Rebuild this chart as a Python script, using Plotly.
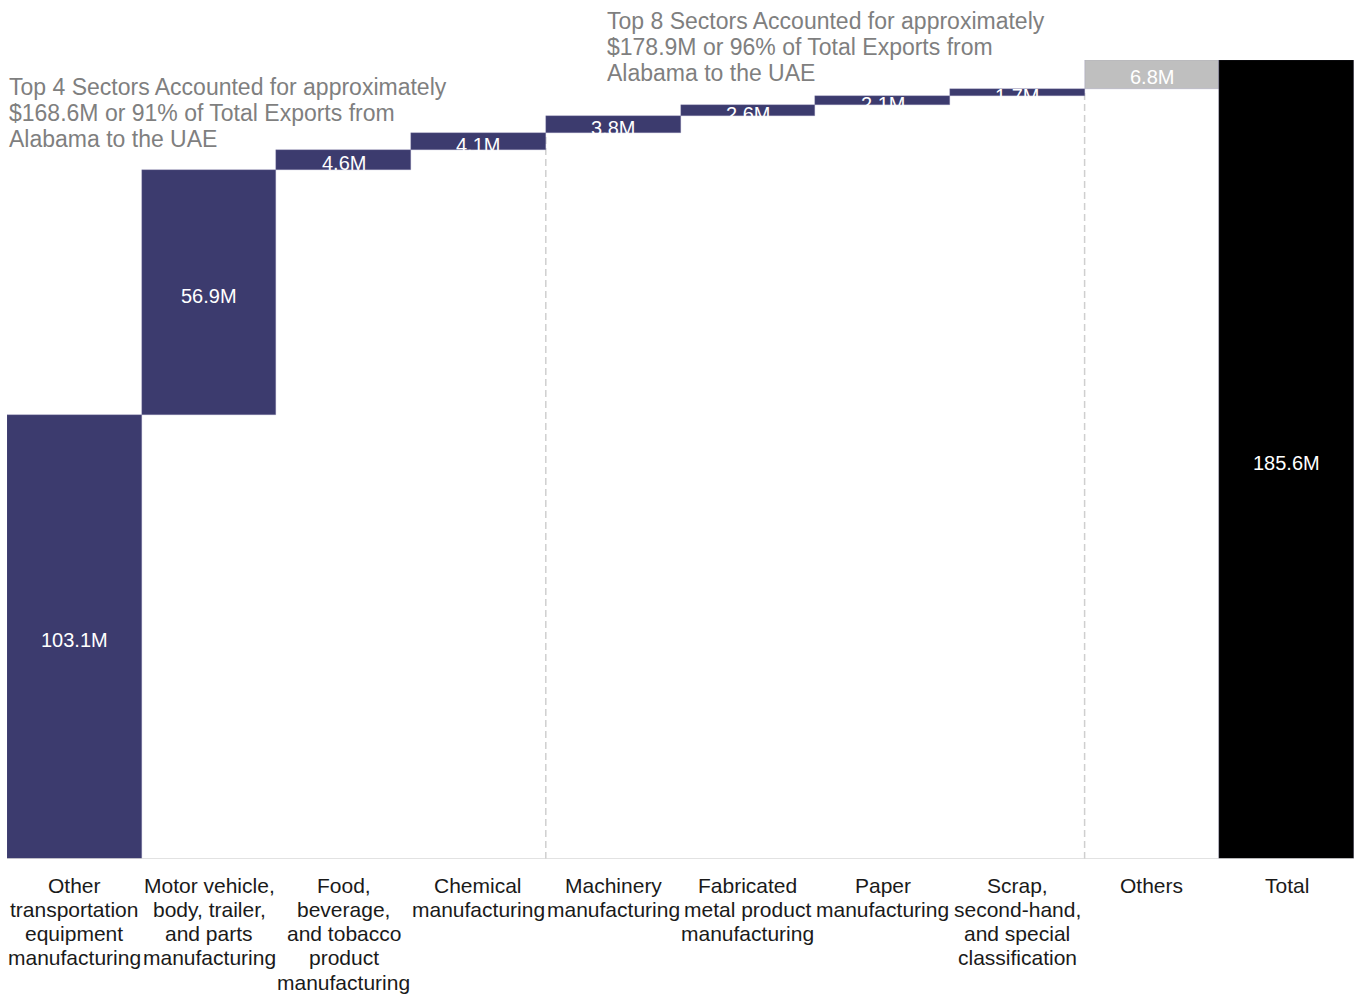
import plotly.graph_objects as go

categories = [
    "Other<br>transportation<br>equipment<br>manufacturing",
    "Motor vehicle,<br>body, trailer,<br>and parts<br>manufacturing",
    "Food,<br>beverage,<br>and tobacco<br>product<br>manufacturing",
    "Chemical<br>manufacturing",
    "Machinery<br>manufacturing",
    "Fabricated<br>metal product<br>manufacturing",
    "Paper<br>manufacturing",
    "Scrap,<br>second-hand,<br>and special<br>classification",
    "Others",
    "Total",
]
values = [103.1, 56.9, 4.6, 4.1, 3.8, 2.6, 2.1, 1.7, 6.8, 185.6]
value_labels = ["103.1M", "56.9M", "4.6M", "4.1M", "3.8M", "2.6M", "2.1M", "1.7M", "6.8M", "185.6M"]
bar_colors = ["#3c3b6e"] * 8 + ["#bfbfbf", "#000000"]

note_top4 = ["Top 4 Sectors Accounted for approximately",
             "$168.6M or 91% of Total Exports from",
             "Alabama to the UAE"]
note_top8 = ["Top 8 Sectors Accounted for approximately",
             "$178.9M or 96% of Total Exports from",
             "Alabama to the UAE"]

# bases: cumulative sum for relative bars, 0 for the total
bases = []
running = 0.0
for i, v in enumerate(values):
    if i == len(values) - 1:
        bases.append(0.0)
    else:
        bases.append(running)
        running += v

xs = list(range(len(values)))

fig = go.Figure()
fig.add_trace(go.Bar(
    x=xs, y=values, base=bases,
    marker=dict(color=bar_colors, line=dict(color="rgba(140,139,180,0.6)", width=0.5)),
    hoverinfo="skip", showlegend=False,
))

FONT = "Liberation Sans, Arial, sans-serif"
annotations = []
for i, (v, b, lab) in enumerate(zip(values, bases, value_labels)):
    annotations.append(dict(
        x=i, y=b + v / 2, text=lab, showarrow=False, xref="x", yref="y",
        font=dict(family=FONT, size=20, color="white"), yshift=-3,
    ))

# category labels, one annotation per line for tight spacing
for i, cat in enumerate(categories):
    for j, line in enumerate(cat.split("<br>")):
        annotations.append(dict(
            x=i, y=0, xref="x", yref="paper", text=line, showarrow=False,
            yanchor="middle", yshift=-26 - 24.3 * j,
            font=dict(family=FONT, size=21, color="#1a1a1a"),
        ))

for j, line in enumerate(note_top4):
    annotations.append(dict(
        x=-0.5, y=1, xref="x", yref="paper", text=line, showarrow=False,
        xanchor="left", yanchor="middle", xshift=0, yshift=-27 - 26 * j,
        font=dict(family=FONT, size=23, color="#7f7f7f"),
    ))
for j, line in enumerate(note_top8):
    annotations.append(dict(
        x=3.5, y=1, xref="x", yref="paper", text=line, showarrow=False,
        xanchor="left", yanchor="middle", xshift=59, yshift=39 - 26 * j,
        font=dict(family=FONT, size=23, color="#7f7f7f"),
    ))

shapes = [
    dict(type="line", xref="paper", yref="y", x0=0, x1=1, y0=0, y1=0,
         line=dict(color="#d9d9d9", width=1.5)),
    dict(type="line", xref="x", yref="y", x0=3.5, x1=3.5, y0=0, y1=bases[4],
         line=dict(color="#cfcfcf", width=1.5, dash="7px,4px"), layer="below"),
    dict(type="line", xref="x", yref="y", x0=7.5, x1=7.5, y0=0, y1=bases[8],
         line=dict(color="#cfcfcf", width=1.5, dash="7px,4px"), layer="below"),
]

fig.update_layout(
    width=1354, height=994,
    margin=dict(l=7, r=0, t=60, b=135),
    paper_bgcolor="white", plot_bgcolor="white",
    bargap=0,
    xaxis=dict(range=[-0.5, 9.5], showticklabels=False, showgrid=False,
               zeroline=False, showline=False, ticks=""),
    yaxis=dict(range=[0, 185.6], showticklabels=False, showgrid=False,
               zeroline=False, showline=False, ticks=""),
    annotations=annotations,
    shapes=shapes,
    font=dict(family=FONT),
)

fig.write_html(
    "out.html",
    config={"displayModeBar": False},
    post_script="document.body.style.margin='0';document.body.style.overflow='hidden';",
)
